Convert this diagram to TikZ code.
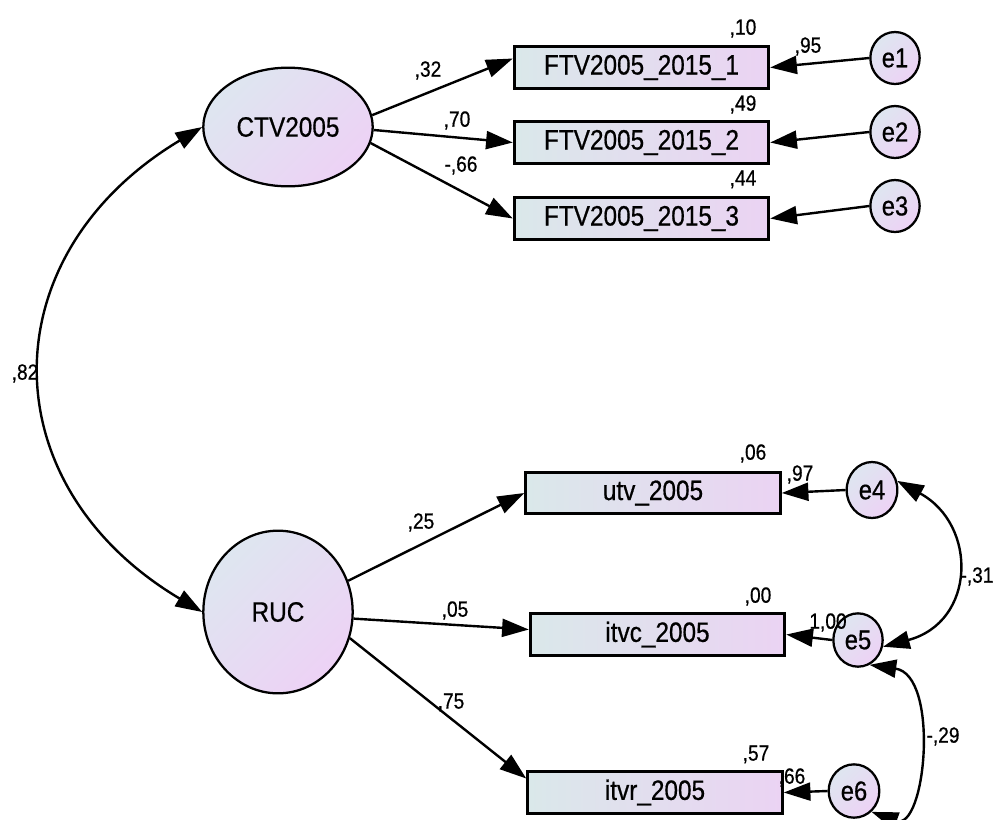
\documentclass[tikz,border=0pt]{standalone}
\usepackage{fontspec}
\newfontfamily\amos[FakeStretch=0.87,FakeBold=0.6]{Liberation Sans}
\usetikzlibrary{shapes.geometric,arrows.meta,calc}
\definecolor{boxL}{RGB}{218,232,234}
\definecolor{boxR}{RGB}{235,211,243}
\definecolor{ellL}{RGB}{222,230,240}
\definecolor{ellR}{RGB}{237,210,245}
\begin{document}
\begin{tikzpicture}[x=0.75pt,y=-0.75pt,
 obs/.style={draw,line width=2.1pt,rectangle,minimum width=191pt,minimum height=31pt,inner sep=0pt,left color=boxL,right color=boxR,font=\amos\fontsize{21}{24}\selectfont},
 lat/.style={draw,line width=1.7pt,ellipse,inner sep=0pt,left color=ellL,right color=ellR,shading angle=45,font=\amos\fontsize{21}{24}\selectfont},
 err/.style={lat,font=\amos\fontsize{20.5}{24}\selectfont},
 patharrow/.style={line width=1.8pt,-{Triangle[length=20pt,width=13.5pt]}},
 cov/.style={line width=1.8pt,{Triangle[length=20pt,width=13.5pt]}-{Triangle[length=20pt,width=13.5pt]}},
 lab/.style={font=\amos\fontsize{16.5}{18}\selectfont,inner sep=0pt,text depth=0pt}
]
\useasboundingbox (0,0) rectangle (995,819);
% latent variables
\node[lat,minimum width=127pt,minimum height=89pt] (ctv) at (288,127) {CTV2005};
\node[lat,minimum width=112pt,minimum height=122pt] (ruc) at (278,612) {RUC};
% observed
\node[obs] (f1) at (641.5,67.5) {FTV2005\_2015\_1};
\node[obs] (f2) at (641.5,142.5) {FTV2005\_2015\_2};
\node[obs] (f3) at (641.5,218.5) {FTV2005\_2015\_3};
\node[obs] (utv) at (653,493) {utv\_2005};
\node[obs] (itvc) at (657.5,634.5) {itvc\_2005};
\node[obs] (itvr) at (655,792.5) {itvr\_2005};
% errors
\node[err,minimum width=37pt,minimum height=39pt] (e1) at (895,58) {e1};
\node[err,minimum width=37pt,minimum height=39pt] (e2) at (895,132) {e2};
\node[err,minimum width=37pt,minimum height=39pt] (e3) at (895,206) {e3};
\node[err,minimum width=38pt,minimum height=42pt] (e4) at (872,490) {e4};
\node[err,minimum width=37pt,minimum height=40pt] (e5) at (858,640) {e5};
\node[err,minimum width=38pt,minimum height=40pt] (e6) at (854,791) {e6};
% paths
\draw[patharrow] (ctv.8) -- ($(f1.west)+(0,-9)$);
\draw[patharrow] (ctv.-2) -- (f2.west);
\draw[patharrow] (ctv.-11) -- (f3.west);
\draw[patharrow] (ruc.24) -- (utv.west);
\draw[patharrow] (ruc.-5) -- ($(itvc.west)+(0,-5)$);
\draw[patharrow] (ruc.-20) -- ($(itvr.west)+(0,-14)$);
\draw[patharrow] (e1.west) -- (f1.east);
\draw[patharrow] (e2.west) -- (f2.east);
\draw[patharrow] (e3.west) -- (f3.east);
\draw[patharrow] (e4.west) -- (utv.east);
\draw[patharrow] (e5.west) -- (itvc.east);
\draw[patharrow] (e6.west) -- (itvr.east);
% covariances
\draw[cov] (ctv.west) .. controls (-11,255) and (-11,485) .. (ruc.west);
\draw[cov] (e4.20) .. controls (978,525) and (976,622) .. (e5.-15);
\draw[cov] (e5.-65) .. controls (940,675) and (926,832) .. (e6.-50);
% labels
\node[lab] (l32) at (428,69) {,32};
\node[lab] (l70) at (457,119) {,70};
\node[lab] (l66a) at (461,164) {-,66};
\node[lab] (l10) at (743,27) {,10};
\node[lab] (l95) at (808,45) {,95};
\node[lab] (l49) at (743,103) {,49};
\node[lab] (l44) at (743,178) {,44};
\node[lab] (l25) at (421,521) {,25};
\node[lab] (l05) at (455,609) {,05};
\node[lab] (l75) at (451,701) {,75};
\node[lab] (l06) at (753,452) {,06};
\node[lab] (l97) at (800,473) {,97};
\node[lab] (l00) at (758,595) {,00};
\node[lab] (l100) at (828,621) {1,00};
\node[lab] (l57) at (756,753) {,57};
\node[lab] (l66b) at (792,776) {,66};
\node[lab] (l31) at (977,575) {-,31};
\node[lab] (l29) at (943,735) {-,29};
\node[lab] (l82) at (25,372) {,82};
\end{tikzpicture}
\end{document}
